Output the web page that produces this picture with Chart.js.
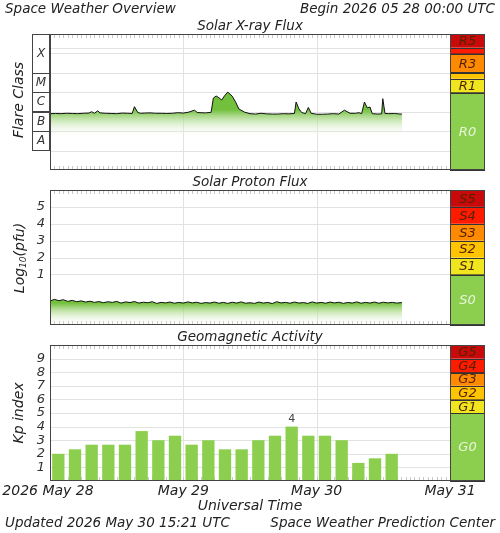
<!DOCTYPE html>
<html><head><meta charset="utf-8">
<script src="https://cdn.jsdelivr.net/npm/chart.js@4"></script>
<style>html,body{margin:0;padding:0;background:#fff;width:500px;height:533px;overflow:hidden}
canvas{position:absolute;left:0;top:0}</style></head>
<body>
<canvas id="c1" width="500" height="533"></canvas>
<canvas id="c2" width="500" height="533"></canvas>
<canvas id="c3" width="500" height="533"></canvas>
<script>
// ---- data ----
const xrayT = [0,1,2,3,4,5,6,7,7.5,8,8.6,9,10,11,12,13,14,14.8,15.2,15.8,16.3,17,18,19,20,21,22,23,24,25,26,26.5,27,28,29,29.4,29.9,30.4,30.9,31.5,32,32.8,33.5,34,35,36,37,38,39,40,41,42,43,44,44.3,44.8,45.3,46,46.5,47,48,49,50,51,52,53,54,55,55.6,56.1,56.6,57.1,57.6,58,59,59.7,59.9,60.3,61,62,63,63.35];
const xrayV = [-6.10,-6.09,-6.10,-6.08,-6.09,-6.10,-6.08,-6.07,-6.00,-6.08,-5.95,-6.06,-6.08,-6.09,-6.10,-6.07,-6.08,-6.09,-5.74,-6.04,-6.08,-6.07,-6.06,-6.08,-6.08,-6.09,-6.08,-6.05,-6.07,-6.02,-5.92,-6.04,-6.05,-6.06,-6.03,-5.30,-5.19,-5.28,-5.40,-5.15,-4.99,-5.20,-5.55,-5.86,-6.02,-6.10,-6.12,-6.08,-6.11,-6.12,-6.12,-6.10,-6.11,-6.09,-5.50,-5.85,-6.04,-6.10,-5.78,-6.08,-6.13,-6.13,-6.12,-6.10,-6.12,-5.92,-6.08,-6.08,-6.05,-6.10,-5.50,-5.80,-5.76,-6.10,-6.12,-6.11,-5.33,-6.09,-6.10,-6.09,-6.12,-6.12];
const protonT = [0,0.8,1.6,2.4,3.2,4,4.8,5.6,6.4,7.2,8,8.8,9.6,10.4,11.2,12,12.8,13.6,14.4,15.2,16,16.8,17.6,18.4,19.2,20,20.8,21.6,22.4,23.2,24,24.8,25.6,26.4,27.2,28,28.8,29.6,30.4,31.2,32,32.8,33.6,34.4,35.2,36,36.8,37.6,38.4,39.2,40,40.8,41.6,42.4,43.2,44,44.8,45.6,46.4,47.2,48,48.8,49.6,50.4,51.2,52,52.8,53.6,54.4,55.2,56,56.8,57.6,58.4,59.2,60,60.8,61.6,62.4,63.35];
const protonV = [-0.58,-0.48,-0.56,-0.50,-0.60,-0.54,-0.62,-0.57,-0.64,-0.59,-0.66,-0.61,-0.68,-0.62,-0.66,-0.60,-0.70,-0.63,-0.67,-0.61,-0.70,-0.65,-0.68,-0.62,-0.72,-0.66,-0.69,-0.64,-0.71,-0.66,-0.70,-0.63,-0.69,-0.65,-0.72,-0.67,-0.70,-0.64,-0.71,-0.66,-0.72,-0.65,-0.70,-0.63,-0.71,-0.68,-0.72,-0.64,-0.70,-0.66,-0.73,-0.62,-0.69,-0.66,-0.71,-0.64,-0.70,-0.67,-0.72,-0.63,-0.70,-0.66,-0.71,-0.64,-0.69,-0.65,-0.72,-0.66,-0.70,-0.63,-0.71,-0.66,-0.70,-0.64,-0.71,-0.65,-0.69,-0.66,-0.70,-0.67];
const kpLabels = Array.from({length:24},(_,i)=>i*3+1.5);
const kpValues = [2,2.33,2.67,2.67,2.67,3.67,3,3.33,2.67,3,2.33,2.33,3,3.33,4,3.33,3.33,3,1.33,1.67,2];
const xrayBands = [-9,-5,-4.301,-4,-3,-2.699,-2];
const xrayBandLabels = ['R0','R1','','R3','','R5'];
const protonBands = [-2,1,2,3,4,5,6];
const protonBandLabels = ['S0','S1','S2','S3','S4','S5'];
const kpBands = [0,5,6,7,8,9,10];
const kpBandLabels = ['G0','G1','G2','G3','G4','G5'];
const bandColors = ['#8ccf4f','#f0e620','#ffc400','#ff8a00','#ff1a00','#c80a0a'];
const flareEdges = [-8,-7,-6,-5,-4,-2];
const flareLabels = ['A','B','C','M','X'];
const protonTicks = [1,2,3,4,5];
const kpTicks = [1,2,3,4,5,6,7,8,9];
const dayTicks = [0,24,48,72];
const dayLabels = ['2026 May 28','May 29','May 30','May 31'];

const F = '"DejaVu Sans", sans-serif';
function txt(ctx,s,x,y,size,align,color,rot){
  ctx.save();ctx.font='oblique '+size+'px '+F;ctx.fillStyle=color||'#222';
  ctx.textAlign=align||'center';ctx.textBaseline='middle';
  ctx.translate(x,y); if(rot) ctx.rotate(rot); ctx.fillText(s,0,0);ctx.restore();
}
function panelPlugin(opt){
  return {id:'panel'+opt.id,
  beforeDatasetsDraw(chart){
    const {ctx,chartArea:a}=chart; const xs=opt.xScale(chart), ys=chart.scales.y;
    ctx.save(); ctx.strokeStyle='#e2e2e2'; ctx.lineWidth=1;
    opt.gridY.forEach(v=>{const y=Math.round(ys.getPixelForValue(v))+0.5;ctx.beginPath();ctx.moveTo(a.left,y);ctx.lineTo(a.right,y);ctx.stroke();});
    dayTicks.slice(1,3).forEach(v=>{const x=Math.round(xs(v))+0.5;ctx.beginPath();ctx.moveTo(x,a.top);ctx.lineTo(x,a.bottom);ctx.stroke();});
    ctx.strokeStyle='#c8c8c8';
    for(let h=0.8;h<72;h+=0.8){const x=Math.round(xs(h))+0.5;ctx.beginPath();ctx.moveTo(x,a.top);ctx.lineTo(x,a.top+4);ctx.moveTo(x,a.bottom);ctx.lineTo(x,a.bottom-4);ctx.stroke();}
    ctx.restore();
  },
  afterDraw(chart){
    const {ctx,chartArea:a}=chart; const ys=chart.scales.y;
    const bx=a.right, bw=35;
    for(let i=0;i<opt.bands.length-1;i++){
      const y0=ys.getPixelForValue(opt.bands[i]), y1=ys.getPixelForValue(opt.bands[i+1]);
      ctx.fillStyle=bandColors[i]; ctx.fillRect(bx,y1,bw,y0-y1);
      ctx.strokeStyle='#333';ctx.lineWidth=1;ctx.strokeRect(bx+0.5,Math.round(y1)+0.5,bw-1,Math.round(y0-y1));
      if(opt.bandLabels[i]) txt(ctx,opt.bandLabels[i],bx+bw/2,(y0+y1)/2+1,13,'center',i==0?'#e8f5dc':'#552200');
    }
    ctx.strokeStyle='#444';ctx.lineWidth=1;ctx.strokeRect(a.left+0.5,a.top+0.5,a.right-a.left+bw-1,a.bottom-a.top-1);
    ctx.beginPath();ctx.moveTo(a.right+0.5,a.top);ctx.lineTo(a.right+0.5,a.bottom);ctx.stroke();
    txt(ctx,opt.title,250,a.top-8,13.5,'center','#222');
    if(opt.extra) opt.extra(chart);
  }};
}
function grad(chart,top,bot,c){
  const g=chart.ctx.createLinearGradient(0,top,0,bot);
  g.addColorStop(0,c);g.addColorStop(1,'rgba(255,255,255,0)');return g;
}
const common = {responsive:false,animation:false,devicePixelRatio:1,
  plugins:{legend:{display:false},tooltip:{enabled:false}}};

new Chart(document.getElementById('c1'),{type:'line',
 data:{datasets:[{data:xrayT.map((t,i)=>({x:t,y:xrayV[i]})),borderColor:'#111',borderWidth:1,pointRadius:0,
   fill:{value:-7.3},backgroundColor:(c)=>c.chart.chartArea?grad(c.chart,c.chart.scales.y.getPixelForValue(-5.9),c.chart.scales.y.getPixelForValue(-7.3),'#72c03c'):'#72c03c'}]},
 options:{...common,layout:{padding:{left:50,right:50,top:34,bottom:363}},
  scales:{x:{type:'linear',min:0,max:72,display:false},y:{min:-9,max:-2,display:false}}},
 plugins:[panelPlugin({id:1,title:'Solar X-ray Flux',bands:xrayBands,bandLabels:xrayBandLabels,gridY:[-8,-7,-6,-5,-4,-3,-2.699],
  xScale:c=>v=>c.scales.x.getPixelForValue(v),
  extra(chart){const {ctx,chartArea:a}=chart,ys=chart.scales.y;
    ctx.save();ctx.fillStyle='#fff';ctx.strokeStyle='#444';
    for(let i=0;i<flareLabels.length;i++){const y0=ys.getPixelForValue(flareEdges[i]),y1=ys.getPixelForValue(flareEdges[i+1]);
      ctx.strokeRect(32.5,Math.round(y1)+0.5,17,Math.round(y0-y1));txt(ctx,flareLabels[i],41,(y0+y1)/2,12,'center','#333');}
    ctx.restore();
    txt(ctx,'Flare Class',19,100,14,'center','#222',-Math.PI/2);
    txt(ctx,'Space Weather Overview',5,9,13.5,'left','#222');
    txt(ctx,'Begin 2026 05 28 00:00 UTC',495,9,13.5,'right','#222');
  }})]});

new Chart(document.getElementById('c2'),{type:'line',
 data:{datasets:[{data:protonT.map((t,i)=>({x:t,y:protonV[i]})),borderColor:'#111',borderWidth:1,pointRadius:0,
   fill:'start',backgroundColor:(c)=>c.chart.chartArea?grad(c.chart,c.chart.scales.y.getPixelForValue(-0.7),c.chart.scales.y.getPixelForValue(-2.05),'#72c03c'):'#72c03c'}]},
 options:{...common,layout:{padding:{left:50,right:50,top:190,bottom:208}},
  scales:{x:{type:'linear',min:0,max:72,display:false},y:{min:-2,max:6,display:false}}},
 plugins:[panelPlugin({id:2,title:'Solar Proton Flux',bands:protonBands,bandLabels:protonBandLabels,gridY:[1,2,3,4,5],
  xScale:c=>v=>c.scales.x.getPixelForValue(v),
  extra(chart){const {ctx}=chart,ys=chart.scales.y;
    protonTicks.forEach(v=>txt(ctx,String(v),45,ys.getPixelForValue(v),13,'right','#333'));
    ctx.save();ctx.translate(20,258);ctx.rotate(-Math.PI/2);ctx.fillStyle='#222';ctx.textBaseline='middle';
    ctx.font='oblique 14px '+F;ctx.textAlign='left';
    const w1=ctx.measureText('Log').width;ctx.font='oblique 9px '+F;const w2=ctx.measureText('10').width;
    ctx.font='oblique 14px '+F;const w3=ctx.measureText('(pfu)').width;
    let x=-(w1+w2+w3)/2;ctx.fillText('Log',x,0);x+=w1;ctx.font='oblique 9px '+F;ctx.fillText('10',x,4);x+=w2;
    ctx.font='oblique 14px '+F;ctx.fillText('(pfu)',x,0);ctx.restore();
  }})]});

new Chart(document.getElementById('c3'),{type:'bar',
 data:{labels:kpLabels,datasets:[{data:kpValues,backgroundColor:'#8ccf4f',barPercentage:0.74,categoryPercentage:1}]},
 options:{...common,layout:{padding:{left:50,right:50,top:345,bottom:52}},
  scales:{x:{type:'category',display:false},y:{min:0,max:10,display:false}}},
 plugins:[panelPlugin({id:3,title:'Geomagnetic Activity',bands:kpBands,bandLabels:kpBandLabels,gridY:[1,2,3,4,5,6,7,8,9],
  xScale:c=>v=>c.chartArea.left+(c.chartArea.right-c.chartArea.left)*v/72,
  extra(chart){const {ctx,chartArea:a}=chart,ys=chart.scales.y,xs=chart.scales.x;
    kpTicks.forEach(v=>txt(ctx,String(v),45,ys.getPixelForValue(v),13,'right','#333'));
    kpValues.forEach((v,i)=>{if(v>=4){ctx.save();ctx.font='11px '+F;ctx.fillStyle='#444';ctx.textAlign='center';ctx.textBaseline='middle';ctx.fillText(String(Math.round(v)),xs.getPixelForValue(i),ys.getPixelForValue(v)-7);ctx.restore();}});
    txt(ctx,'Kp index',19,413,14,'center','#222',-Math.PI/2);
    dayTicks.forEach((d,i)=>{const x=a.left+(a.right-a.left)*d/72;txt(ctx,dayLabels[i],i==0?x-2:x,491,14,'center','#222');});
    txt(ctx,'Universal Time',250,506,14,'center','#222');
    txt(ctx,'Updated 2026 May 30 15:21 UTC',5,523,13.5,'left','#222');
    txt(ctx,'Space Weather Prediction Center',495,523,13.5,'right','#222');
  }})]});
</script></body></html>
